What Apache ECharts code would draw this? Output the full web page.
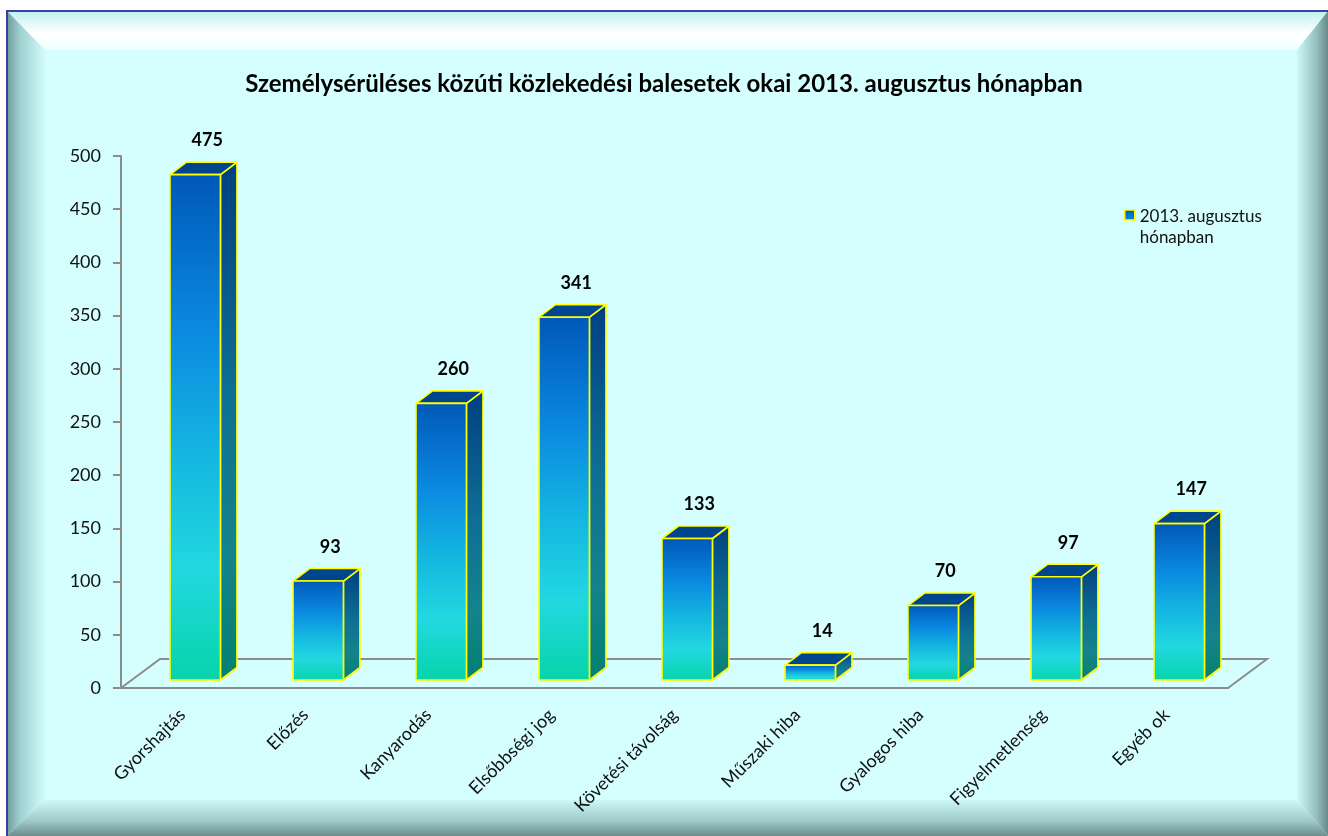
<!DOCTYPE html>
<html>
<head>
<meta charset="utf-8">
<script src="https://cdn.jsdelivr.net/npm/echarts@6/dist/echarts.min.js"></script>
<style>
html, body { margin: 0; padding: 0; background: #fff; }
#main { width: 1328px; height: 836px; }
</style>
</head>
<body>
<div id="main"></div>
<script>
const categories = ['Gyorshajtás', 'Előzés', 'Kanyarodás', 'Elsőbbségi jog', 'Követési távolság',
  'Műszaki hiba', 'Gyalogos hiba', 'Figyelmetlenség', 'Egyéb ok'];
const values = [475, 93, 260, 341, 133, 14, 70, 97, 147];
const seriesName = '2013. augusztus hónapban';
const titleText = 'Személysérüléses közúti közlekedési balesetek okai 2013. augusztus hónapban';

const chart = echarts.init(document.getElementById('main'));

const axisGray = '#8c8c8c';
const fontFam = 'Lato, "Open Sans", sans-serif';

// front face / side / top colours of the 3d columns
const frontGrad = new echarts.graphic.LinearGradient(0, 0, 0, 1, [
  { offset: 0, color: '#0058b8' },
  { offset: 0.3, color: '#0a88e0' },
  { offset: 0.55, color: '#14b6e0' },
  { offset: 0.78, color: '#22d8e0' },
  { offset: 1, color: '#06d4aa' }
]);
const sideGrad = new echarts.graphic.LinearGradient(0, 0, 0, 1, [
  { offset: 0, color: '#003f82' },
  { offset: 0.45, color: '#0e6f94' },
  { offset: 0.75, color: '#14838c' },
  { offset: 1, color: '#038170' }
]);
const topColor = '#00468f';
const edge = '#ffff00';

// depth of the floor and of the columns (px)
const floorDepth = [39, -29];
const barShift = [12.5, -8];
const barDepth = [16.5, -12.5];

function renderBar(params, api) {
  const i = api.value(0);
  const v = api.value(1);
  const base = api.coord([i, 0]);
  const top = api.coord([i, v]);
  const bw = api.size([1, 0])[0];
  const w = bw * 0.41;
  const fx0 = base[0] - 12.5, fx1 = fx0 + w;
  const by = base[1] + barShift[1];
  const ty = top[1] + barShift[1];
  const dx = barDepth[0], dy = barDepth[1];
  const stroke = { stroke: edge, lineWidth: 1.6, lineJoin: 'round' };
  return {
    type: 'group',
    children: [
      {
        type: 'polygon',
        shape: { points: [[fx1, by], [fx1 + dx, by + dy], [fx1 + dx, ty + dy], [fx1, ty]] },
        style: Object.assign({ fill: sideGrad }, stroke)
      },
      {
        type: 'polygon',
        shape: { points: [[fx0, ty], [fx1, ty], [fx1 + dx, ty + dy], [fx0 + dx, ty + dy]] },
        style: Object.assign({ fill: topColor }, stroke)
      },
      {
        type: 'rect',
        shape: { x: fx0, y: ty, width: w, height: by - ty },
        style: Object.assign({ fill: frontGrad }, stroke)
      },
      {
        type: 'text',
        x: (fx0 + fx1) / 2 + 12,
        y: ty - 34,
        style: {
          text: String(v),
          align: 'center',
          verticalAlign: 'middle',
          fill: '#000',
          font: 'bold 18px ' + fontFam
        }
      }
    ]
  };
}

function renderFloor(params, api) {
  const bw = api.size([1, 0])[0];
  const a = api.coord([0, 0]);
  const b = api.coord([categories.length - 1, 0]);
  const left = a[0] - bw / 2, right = b[0] + bw / 2, y = a[1];
  return {
    type: 'polyline',
    shape: {
      points: [
        [left, y],
        [left + floorDepth[0], y + floorDepth[1]],
        [right + floorDepth[0], y + floorDepth[1]],
        [right, y]
      ]
    },
    style: { stroke: axisGray, lineWidth: 2, fill: null }
  };
}

// bevelled frame of the chart area
const fx = 7, fy = 11, fr = 1328, fb = 836, bv = 38;
const frame = [
  { type: 'rect', z: -10, shape: { x: fx, y: fy, width: fr - fx, height: fb - fy },
    style: { fill: '#d5ffff' } },
  { type: 'polygon', z: -9,
    shape: { points: [[fx, fy], [fr, fy], [fr - 31, fy + 39], [fx + bv, fy + 39]] },
    style: { fill: { type: 'linear', x: 0, y: 0, x2: 0, y2: 1, colorStops: [
      { offset: 0, color: '#bfeff0' }, { offset: 0.55, color: '#ffffff' }, { offset: 1, color: '#f0ffff' }] } } },
  { type: 'polygon', z: -9,
    shape: { points: [[fx, fy], [fx + bv, fy + 39], [fx + bv, fb - 36], [fx, fb]] },
    style: { fill: { type: 'linear', x: 0, y: 0, x2: 1, y2: 0, colorStops: [
      { offset: 0, color: '#6f9c9c' }, { offset: 0.35, color: '#9fd0d0' }, { offset: 1, color: '#d2fcfc' }] } } },
  { type: 'polygon', z: -9,
    shape: { points: [[fr, fy], [fr - 31, fy + 39], [fr - 31, fb - 36], [fr, fb]] },
    style: { fill: { type: 'linear', x: 0, y: 0, x2: 1, y2: 0, colorStops: [
      { offset: 0, color: '#ccf8f8' }, { offset: 0.6, color: '#98c2c2' }, { offset: 1, color: '#688a8a' }] } } },
  { type: 'polygon', z: -9,
    shape: { points: [[fx, fb], [fx + bv, fb - 36], [fr - 31, fb - 36], [fr, fb]] },
    style: { fill: { type: 'linear', x: 0, y: 0, x2: 0, y2: 1, colorStops: [
      { offset: 0, color: '#cdf8f8' }, { offset: 0.55, color: '#a2cccc' }, { offset: 1, color: '#6c8e8e' }] } } },
  { type: 'polyline', z: -8,
    shape: { points: [[fx, fb], [fx, fy], [fr, fy]] },
    style: { stroke: '#3b3f9e', lineWidth: 2, fill: null } }
];

const option = {
  backgroundColor: '#ffffff',
  animation: false,
  graphic: frame,
  title: {
    text: titleText,
    left: 'center',
    top: 67,
    textStyle: { fontFamily: fontFam, fontSize: 24, fontWeight: 'bold', color: '#000' }
  },
  legend: {
    left: 1119,
    top: 201,
    padding: 5,
    // square drawn at the top of a two-line tall icon box, so it sits beside the first line
    icon: 'path://M0,0L10,0L10,10L0,10Z M10,34L10,34',
    itemWidth: 10,
    itemHeight: 34,
    data: [{ name: seriesName, itemStyle: { color: frontGrad, borderColor: edge, borderWidth: 1.5 } }],
    formatter: () => '2013. augusztus\nhónapban',
    textStyle: { fontFamily: fontFam, fontSize: 17, color: '#111', lineHeight: 21 }
  },
  grid: { left: 121, right: 100, top: 156, bottom: 148 },
  xAxis: {
    type: 'category',
    data: categories,
    boundaryGap: true,
    axisLine: { lineStyle: { color: axisGray, width: 2 } },
    axisTick: { length: 7, lineStyle: { color: axisGray, width: 2 } },
    axisLabel: { interval: 0, rotate: 45, margin: 24, fontFamily: fontFam, fontSize: 18, color: '#111' }
  },
  yAxis: {
    type: 'value',
    min: 0,
    max: 500,
    interval: 50,
    splitLine: { show: false },
    axisLine: { show: true, lineStyle: { color: axisGray, width: 2 } },
    axisTick: { show: true, length: 8, lineStyle: { color: axisGray, width: 2 } },
    axisLabel: { margin: 20, fontFamily: fontFam, fontSize: 18, color: '#111' }
  },
  series: [
    {
      type: 'custom',
      name: 'floor',
      silent: true,
      z: 1,
      renderItem: renderFloor,
      data: [[0, 0]]
    },
    {
      type: 'custom',
      name: seriesName,
      z: 3,
      renderItem: renderBar,
      itemStyle: { color: frontGrad, borderColor: edge, borderWidth: 1.5 },
      encode: { x: 0, y: 1 },
      data: values.map((v, i) => [i, v])
    }
  ]
};

chart.setOption(option);
</script>
</body>
</html>
